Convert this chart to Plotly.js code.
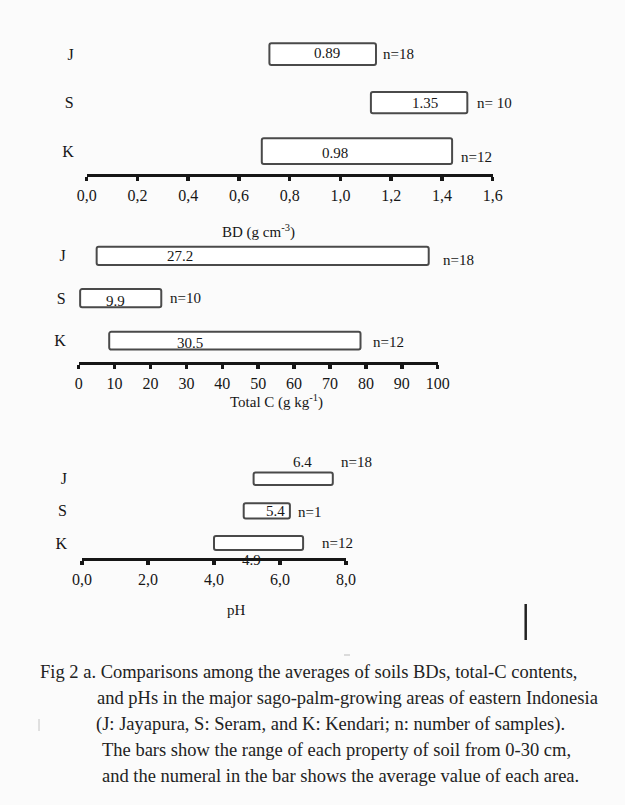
<!DOCTYPE html>
<html>
<head>
<meta charset="utf-8">
<script src="https://cdn.plot.ly/plotly-3.0.1.min.js"></script>
<style>
  html, body { margin: 0; padding: 0; background: #fbfbfb; }
  #chart { width: 625px; height: 805px; }
</style>
</head>
<body>
<div id="chart"></div>
<script>
// ---------------- DATA ----------------
const sites = ['J', 'S', 'K'];
const nSamples = [18, 10, 12];
const nSamplesPH = [18, 1, 12];
const nLabelText = ['n=18', 'n= 10', 'n=12'];
const nLabelTextPH = ['n=18', 'n=1', 'n=12'];

// Bulk density (g cm-3): range min/max and average
const bdMin = [0.72, 1.12, 0.69];
const bdMax = [1.14, 1.50, 1.44];
const bdMean = [0.89, 1.35, 0.98];
const bdTicks = [0, 0.2, 0.4, 0.6, 0.8, 1.0, 1.2, 1.4, 1.6];
const bdTickText = ['0,0', '0,2', '0,4', '0,6', '0,8', '1,0', '1,2', '1,4', '1,6'];

// Total C (g kg-1)
const tcMin = [5.0, 0.4, 8.5];
const tcMax = [97.5, 23.0, 78.5];
const tcMean = [27.2, 9.9, 30.5];
const tcTicks = [0, 10, 20, 30, 40, 50, 60, 70, 80, 90, 100];
const tcTickText = ['0', '10', '20', '30', '40', '50', '60', '70', '80', '90', '100'];

// pH
const phMin = [5.2, 4.9, 4.0];
const phMax = [7.6, 6.3, 6.7];
const phMean = [6.4, 5.4, 4.9];
const phTicks = [0, 2, 4, 6, 8];
const phTickText = ['0,0', '2,0', '4,0', '6,0', '8,0'];

const captionLines = [
  'Fig 2 a. Comparisons among the averages of soils BDs, total-C contents,',
  'and pHs in the major sago-palm-growing areas of eastern Indonesia',
  '(J: Jayapura, S: Seram, and K: Kendari; n: number of samples).',
  'The bars show the range of each property of soil from 0-30 cm,',
  'and the numeral in the bar shows the average value of each area.'
];

// ---------------- LAYOUT HELPERS ----------------
const W = 625, H = 805;
const px = x => x / W;
const py = y => 1 - y / H;
const FONT = 'Liberation Serif, Times New Roman, serif';
const INK = '#161616';

const panels = [
  { key: '', over: '4', min: bdMin, max: bdMax, mean: bdMean, ticks: bdTicks, tickText: bdTickText,
    range: [0, 1.6], xdom: [86.7, 492.7], ydom: [30, 174.3], yrange: [-0.48, 2.5],
    widths: [0.45, 0.44, 0.53], nText: nLabelText,
    meanShift: [[14, 1], [-4, 0], [0, -2]], nShift: [[5, 0], [8, 0], [7, -5.5]],
    title: 'BD (g cm<sup>-3</sup>)', titlePos: [258, 232], ylabStandoff: 12 },
  { key: '2', over: '5', min: tcMin, max: tcMax, mean: tcMean, ticks: tcTicks, tickText: tcTickText,
    range: [0, 100], xdom: [78.7, 437.7], ydom: [234.6, 362.3], yrange: [-0.51, 2.5],
    widths: [0.43, 0.43, 0.42], nText: ['n=18', 'n=10', 'n=12'],
    meanShift: [[4, 0], [1, -3], [2, -2.5]], nShift: [[12, -4], [7, 0], [10, -1]],
    title: 'Total C (g kg<sup>-1</sup>)', titlePos: [276.7, 401.7], ylabStandoff: 12 },
  { key: '3', over: '6', min: phMin, max: phMax, mean: phMean, ticks: phTicks, tickText: phTickText,
    range: [0, 8], xdom: [82, 346], ydom: [462.6, 558.3], yrange: [-0.475, 2.5],
    widths: [0.39, 0.48, 0.43], nText: nLabelTextPH,
    meanShift: [[9, 17], [15, 0], [8, -17]], nShift: [[6.6, 17], [5.7, -1], [17, 0]],
    title: 'pH', titlePos: [236.7, 610], ylabStandoff: 14 }
];

const traces = [];
const annotations = [];
const layout = {
  width: W, height: H,
  margin: { l: 0, r: 0, t: 0, b: 0 },
  paper_bgcolor: '#fbfbfb',
  plot_bgcolor: 'rgba(0,0,0,0)',
  showlegend: false,
  font: { family: FONT, size: 15, color: INK },
  shapes: [],
  annotations: annotations
};

panels.forEach(p => {
  const xa = 'xaxis' + p.key, ya = 'yaxis' + p.key;
  const xr = 'x' + p.key, yr = 'y' + p.key;
  traces.push({
    type: 'bar', orientation: 'h',
    y: sites, base: p.min,
    x: p.max.map((v, i) => v - p.min[i]),
    width: p.widths,
    xaxis: xr, yaxis: yr,
    marker: { color: '#ffffff', line: { color: '#4a4a4a', width: 2 }, cornerradius: 2 },
    hoverinfo: 'skip'
  });
  layout[xa] = {
    domain: [px(p.xdom[0]), px(p.xdom[1])], range: p.range, anchor: yr,
    tickvals: p.ticks, ticktext: p.tickText,
    ticks: 'outside', ticklen: 4, tickwidth: 3.5, tickcolor: INK,
    showline: true, linewidth: 2.5, linecolor: INK,
    showgrid: false, zeroline: false, fixedrange: true,
    ticklabelstandoff: 1,
    tickfont: { family: FONT, size: 16, color: INK }
  };
  // overlay axis so the tick marks cross the axis line (above as well as below)
  layout['xaxis' + p.over] = {
    overlaying: xr, anchor: yr, side: 'bottom',
    range: p.range, tickvals: p.ticks, ticks: 'inside', ticklen: 4, tickwidth: 3.5,
    tickcolor: INK, showticklabels: false, showline: false, showgrid: false,
    zeroline: false, fixedrange: true
  };
  layout[ya] = {
    domain: [py(p.ydom[1]), py(p.ydom[0])], range: p.yrange, anchor: xr,
    type: 'category', categoryorder: 'array', categoryarray: sites.slice().reverse(),
    showline: false, showgrid: false, zeroline: false, ticks: '', fixedrange: true,
    ticklabelstandoff: p.ylabStandoff,
    tickfont: { family: FONT, size: 16, color: INK }
  };
  sites.forEach((s, i) => {
    annotations.push({
      xref: xr, yref: yr, x: p.mean[i], y: s, text: String(p.mean[i]),
      showarrow: false, xanchor: 'center', yanchor: 'middle',
      xshift: p.meanShift[i][0], yshift: p.meanShift[i][1],
      font: { family: FONT, size: 15, color: INK }
    });
    annotations.push({
      xref: xr, yref: yr, x: p.max[i], y: s, text: p.nText[i],
      showarrow: false, xanchor: 'left', yanchor: 'middle',
      xshift: p.nShift[i][0], yshift: p.nShift[i][1],
      font: { family: FONT, size: 15, color: INK }
    });
  });
  annotations.push({
    xref: 'paper', yref: 'paper', x: px(p.titlePos[0]), y: py(p.titlePos[1]),
    text: p.title, showarrow: false, xanchor: 'center', yanchor: 'middle',
    font: { family: FONT, size: 15, color: INK }
  });
});

// caption
const capX = [38, 95, 94, 100, 99.5];
const capY = [671.5, 698, 724.5, 750, 775.5];
captionLines.forEach((t, i) => {
  annotations.push({
    xref: 'paper', yref: 'paper', x: px(capX[i]), y: py(capY[i]),
    text: t, showarrow: false, xanchor: 'left', yanchor: 'middle', align: 'left',
    font: { family: FONT, size: 18.5, color: '#222222' }
  });
});

// stray marks from the scanned figure
layout.shapes.push({ type: 'line', xref: 'paper', yref: 'paper',
  x0: px(525.7), x1: px(525.7), y0: py(604), y1: py(640),
  line: { color: '#222', width: 2.5 } });
layout.shapes.push({ type: 'line', xref: 'paper', yref: 'paper',
  x0: px(344), x1: px(350), y0: py(655), y1: py(655),
  line: { color: '#bbbbbb', width: 1 } });
layout.shapes.push({ type: 'line', xref: 'paper', yref: 'paper',
  x0: px(39), x1: px(39), y0: py(719), y1: py(731),
  line: { color: '#c4c4c4', width: 1 } });

Plotly.newPlot('chart', traces, layout, { staticPlot: true, displayModeBar: false });
</script>
</body>
</html>
